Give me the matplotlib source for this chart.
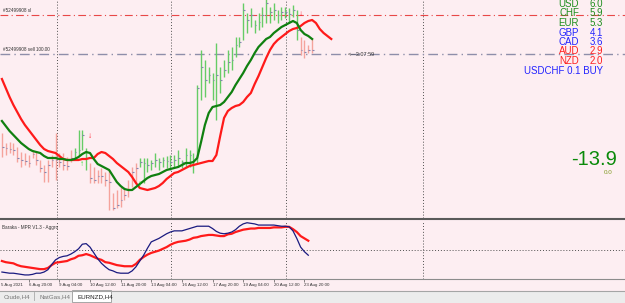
import numpy as np
import matplotlib
matplotlib.use("Agg")
import matplotlib.pyplot as plt
from matplotlib.lines import Line2D
from matplotlib.patches import Rectangle
import matplotlib.transforms as mtransforms

plt.rcParams["font.family"] = ["Liberation Sans", "DejaVu Sans"]

# EURNZD H4 bars, price in chart units above the bottom of the price panel
bar_high = [85, 75, 76, 75, 71, 66, 65, 63, 68, 66, 58, 53, 58, 63, 85, 65, 65, 61, 68, 70,
            88, 88, 70, 55, 51, 48, 50, 46, 48, 25, 28, 31, 31, 38, 51, 55, 60, 60, 60, 58,
            65, 60, 61, 62, 63, 63, 68, 58, 70, 68, 65, 133, 168, 158, 151, 145, 175, 151, 158, 168,
            171, 181, 181, 215, 205, 210, 198, 205, 211, 223, 211, 215, 208, 211, 211, 210, 213, 208, 181, 178,
            173, 180]
bar_low = [61, 63, 65, 63, 56, 51, 53, 51, 60, 53, 46, 36, 36, 51, 38, 51, 48, 48, 56, 60,
           63, 68, 48, 35, 35, 35, 35, 32, 8, 8, 10, 11, 18, 21, 31, 35, 51, 35, 46, 48,
           51, 48, 51, 50, 48, 51, 51, 50, 51, 51, 45, 55, 118, 121, 135, 118, 98, 125, 141, 145,
           148, 161, 171, 178, 185, 191, 185, 188, 191, 195, 195, 198, 195, 198, 200, 196, 201, 178, 163, 160,
           165, 165]
bar_close = [71, 70, 69, 68, 60, 58, 57, 55, 64, 58, 50, 46, 53, 58, 58, 56, 53, 52, 60, 66,
             68, 83, 66, 40, 38, 42, 42, 38, 36, 10, 13, 18, 23, 28, 46, 50, 56, 55, 53, 55,
             58, 56, 58, 57, 56, 58, 60, 56, 63, 63, 58, 130, 151, 138, 143, 138, 143, 138, 148, 156,
             158, 173, 176, 208, 198, 203, 193, 196, 203, 215, 206, 208, 203, 206, 206, 204, 208, 188, 168, 166,
             168, 168]
bar_up = [0] * 19 + [1] * 4 + [0] * 13 + [1] * 42 + [0] * 4

# moving averages on the price panel
ma_fast = [97, 92, 87, 83, 79, 75, 72, 69, 67, 66, 65, 62, 60, 60, 60, 59, 59, 58, 58, 59,
           61, 64, 66, 65, 59, 54, 52, 50, 48, 42, 36, 32, 29, 28, 28, 31, 34, 37, 40, 42,
           43, 44, 46, 48, 49, 50, 51, 53, 55, 55, 56, 60, 76, 93, 105, 111, 112, 113, 116, 121,
           126, 133, 139, 145, 152, 158, 165, 171, 175, 179, 181, 185, 188, 191, 193, 195, 197, 195, 188, 184,
           182, 179]
ma_slow = [139, 130, 121, 113, 106, 99, 93, 88, 83, 78, 73, 69, 67, 66, 65, 62, 59, 58, 58, 58,
           58, 59, 59, 60, 60, 64, 66, 65, 62, 59, 55, 52, 49, 46, 41, 35, 30, 29, 28, 29,
           30, 32, 35, 39, 42, 45, 46, 48, 50, 52, 53, 54, 55, 56, 57, 57, 63, 82, 100, 107,
           110, 112, 113, 116, 121, 125, 134, 142, 151, 160, 168, 174, 178, 181, 184, 187, 189, 190, 192, 195,
           197, 198, 195, 189, 185, 182, 179]

# Baraka - MPR V1.3 - Aggro (0..100)
mpr_signal = [31, 29, 28, 27, 24, 22, 21, 20, 19, 18, 17, 17, 19, 24, 28, 29, 30, 31, 34, 36,
              40, 41, 43, 41, 38, 35, 33, 29, 28, 26, 24, 23, 22, 22, 22, 26, 33, 38, 42, 45,
              47, 49, 52, 55, 59, 62, 64, 65, 66, 68, 71, 72, 74, 75, 76, 76, 75, 74, 74, 77,
              78, 81, 83, 85, 86, 87, 87, 88, 88, 88, 88, 89, 89, 89, 90, 90, 86, 81, 74, 70, 66]
mpr_main = [12, 11, 10, 10, 9, 8, 7, 7, 8, 10, 10, 12, 16, 25, 33, 37, 39, 40, 43, 47,
            52, 60, 61, 55, 45, 35, 27, 21, 16, 14, 11, 10, 10, 10, 14, 21, 31, 41, 53, 64,
            67, 70, 74, 78, 81, 83, 83, 83, 85, 87, 89, 91, 91, 91, 91, 87, 82, 79, 78, 79,
            81, 85, 91, 95, 97, 96, 95, 93, 93, 93, 93, 93, 92, 91, 91, 90, 83, 70, 55, 47, 41]

sl_level = 203
entry_level = 164
sell_arrows = [(23, 81), (78, 203)]
buy_arrows = [(21, 53), (36, 33)]
grid_bars = [14.4, 44.2, 74.2, 109.9]

time_ticks = [7, 15, 23, 31, 39, 47, 55, 63, 71, 79]
time_labels = ["6 Aug 20:00", "9 Aug 04:00", "10 Aug 12:00", "11 Aug 20:00", "13 Aug 04:00",
               "16 Aug 12:00", "17 Aug 20:00", "19 Aug 04:00", "20 Aug 12:00", "23 Aug 20:00"]

strength_ccy = ["USD", "CHF", "EUR", "GBP", "CAD", "AUD", "NZD"]
strength_val = [6.0, 5.9, 5.3, 4.1, 3.6, 2.9, 2.0]
strength_col = ["#1f8f1f"] * 3 + ["#2424ff"] * 2 + ["#ff2020"] * 2

W, H = 625, 303
BG = "#fdeef2"


def fy(px):
    return 1 - px / H


fig = plt.figure(figsize=(W / 100, H / 100), dpi=100, facecolor=BG)
ax = fig.add_axes([0, fy(218), 1, 218 / H])
ind = fig.add_axes([0, fy(279), 1, 58 / H])

xlim = (-0.5, 162.7)
for a in (ax, ind):
    a.set_facecolor(BG)
    a.set_xlim(*xlim)
    for s in a.spines.values():
        s.set_visible(False)
    a.set_yticks([])
    for g in grid_bars:
        a.axvline(g, color="#505050", lw=0.7, ls=(0, (1, 2)), zorder=1)

# ── price panel ────────────────────────────────────────────
ax.set_ylim(0, 218)
ax.set_xticks([])
idx = np.arange(len(bar_close))
cols = ["#66cc66" if u else "#f5a39c" for u in bar_up]
ax.vlines(idx, bar_low, bar_high, colors=cols, lw=1.0, zorder=2)
ax.hlines(bar_close, idx, idx + 0.45, colors="#8585b0", lw=0.8, zorder=2)

ax.axhline(sl_level, color="#e84848", lw=0.8, ls=(0, (7, 3, 1, 3)), zorder=1)
ax.axhline(entry_level, color="#8e8eaa", lw=1.0, ls=(0, (7, 3, 1, 3)), zorder=1)
ax.text(0.005, sl_level + 2, "#52499908 sl", fontsize=3.3, color="#333",
        transform=mtransforms.blended_transform_factory(ax.transAxes, ax.transData), va="bottom")
ax.text(0.005, entry_level + 2, "#52499908 sell 100.00", fontsize=3.3, color="#333",
        transform=mtransforms.blended_transform_factory(ax.transAxes, ax.transData), va="bottom")
ax.text(90.4, entry_level, "<—3:07:59", fontsize=4, color="#333", va="center")

ax.plot(np.arange(len(ma_slow)), ma_slow, color="#ff1a1a", lw=1.6, zorder=4)
ax.plot(np.arange(len(ma_fast)), ma_fast, color="#108010", lw=1.6, zorder=5)

for bx, by in sell_arrows:
    ax.text(bx, by, "↓", color="#ff2030", fontsize=6, fontweight="bold", ha="center", va="center", zorder=6)
for bx, by in buy_arrows:
    ax.text(bx, by, "↑", color="#22dd22", fontsize=6, fontweight="bold", ha="center", va="center", zorder=6)

# ── indicator panel ───────────────────────────────────────
ind.set_ylim(0, 100)
ind.axhline(50, color="#505050", lw=0.7, ls=(0, (1, 2)), zorder=1)
ind.plot(np.arange(len(mpr_signal)), mpr_signal, color="#ff1a1a", lw=1.6, zorder=3)
ind.plot(np.arange(len(mpr_main)), mpr_main, color="#1a1a80", lw=0.9, zorder=4)
ind.text(0.004, 0.93, "Baraka - MPR V1.3 - Aggro", fontsize=3.3, color="#333",
         transform=ind.transAxes, va="top")
ind.spines["bottom"].set_visible(True)
ind.spines["bottom"].set_color("#8c8c8c")
ind.spines["bottom"].set_linewidth(0.8)
ind.set_xticks(time_ticks)
ind.set_xticklabels(time_labels, ha="left", fontsize=3.2, color="#333")
ind.tick_params(axis="x", length=2, width=0.5, color="#555", pad=0.8)
ind.text(0.001, -0.07, "5 Aug 2021", fontsize=3.2, color="#333", ha="left", va="top",
         transform=ind.transAxes, clip_on=False)

# ── frame lines, tab bar ──────────────────────────────────
fig.add_artist(Line2D([0, 1], [fy(219), fy(219)], color="#5a5a5a", lw=1.5))
fig.add_artist(Rectangle((0, 0), 1, fy(290.5), color="#ececec", lw=0))
fig.add_artist(Line2D([0, 1], [fy(290.5), fy(290.5)], color="#a5a5a5", lw=0.8))
fig.add_artist(Rectangle((72 / W, fy(302)), 39 / W, 12 / H, facecolor="white", edgecolor="#9a9a9a", lw=0.6))
fig.add_artist(Line2D([34 / W, 34 / W], [fy(300), fy(292)], color="#aaaaaa", lw=0.6))
fig.text(4 / W, fy(297), "Crude,H4", fontsize=4.5, color="#777", va="center")
fig.text(39 / W, fy(297), "NatGas,H4", fontsize=4.5, color="#777", va="center")
fig.text(77 / W, fy(297), "EURNZD,H4", fontsize=4.5, color="#222", va="center")

# ── currency strength block ───────────────────────────────
for k, (c, v, col) in enumerate(zip(strength_ccy, strength_val, strength_col)):
    y = 4 + 9.5 * k
    fig.text(579 / W, fy(y), c, fontsize=7, color=col, ha="right", va="center")
    fig.text(603 / W, fy(y), f"{v:.1f}", fontsize=7, color=col, ha="right", va="center")
fig.text(603 / W, fy(70.5), "USDCHF 0.1 BUY", fontsize=7, color="#2424ff", ha="right", va="center")
fig.text(617 / W, fy(160), "-13.9", fontsize=14.5, color="#0a8a0a", ha="right", va="center")
fig.text(612 / W, fy(173), "0.0", fontsize=4.5, color="#7f9a20", ha="right", va="center")

fig.savefig("out.png", dpi=100, facecolor=BG)
